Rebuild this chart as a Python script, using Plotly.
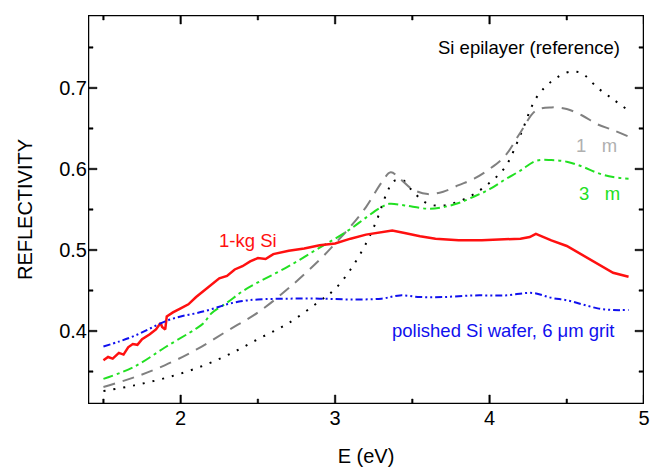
import numpy as np
import plotly.graph_objects as go

# Si epilayer (reference) - black dotted
epi_x = [1.5, 1.7, 1.9, 2.1, 2.3, 2.5, 2.7, 2.9, 3.0, 3.1, 3.2, 3.27, 3.33, 3.38, 3.44, 3.5, 3.6, 3.7, 3.8, 3.9, 4.0, 4.1, 4.2, 4.3, 4.4, 4.5, 4.55, 4.6, 4.7, 4.8, 4.9]
epi_y = [0.326, 0.333, 0.342, 0.354, 0.370, 0.390, 0.410, 0.437, 0.452, 0.476, 0.508, 0.537, 0.568, 0.585, 0.586, 0.573, 0.557, 0.555, 0.560, 0.569, 0.583, 0.602, 0.642, 0.687, 0.708, 0.719, 0.720, 0.718, 0.700, 0.686, 0.672]

# 1 um grit - gray dashed
g1_x = [1.5, 1.7, 1.9, 2.1, 2.3, 2.5, 2.7, 2.9, 3.0, 3.1, 3.2, 3.3, 3.36, 3.42, 3.5, 3.6, 3.7, 3.8, 3.9, 4.0, 4.1, 4.2, 4.3, 4.4, 4.5, 4.6, 4.7, 4.8, 4.9]
g1_y = [0.331, 0.343, 0.358, 0.377, 0.400, 0.423, 0.453, 0.488, 0.508, 0.529, 0.553, 0.583, 0.596, 0.588, 0.575, 0.569, 0.572, 0.580, 0.588, 0.600, 0.616, 0.645, 0.672, 0.676, 0.674, 0.666, 0.655, 0.648, 0.640]

# 3 um grit - green dash-dot
g3_x = [1.5, 1.7, 1.9, 2.1, 2.15, 2.2, 2.3, 2.4, 2.5, 2.7, 2.9, 3.0, 3.1, 3.2, 3.3, 3.35, 3.45, 3.6, 3.7, 3.8, 3.9, 4.0, 4.1, 4.2, 4.3, 4.4, 4.5, 4.6, 4.7, 4.8, 4.9]
g3_y = [0.341, 0.356, 0.380, 0.403, 0.410, 0.422, 0.435, 0.449, 0.460, 0.480, 0.503, 0.514, 0.526, 0.540, 0.553, 0.557, 0.555, 0.551, 0.553, 0.558, 0.566, 0.575, 0.587, 0.598, 0.610, 0.611, 0.609, 0.603, 0.595, 0.590, 0.588]

# 1-kg Si - red solid
kg_x = [1.5, 1.53, 1.56, 1.6, 1.63, 1.66, 1.69, 1.72, 1.75, 1.8, 1.84, 1.87, 1.88, 1.9, 1.91, 1.95, 2.0, 2.05, 2.1, 2.15, 2.2, 2.25, 2.3, 2.35, 2.4, 2.45, 2.5, 2.55, 2.6, 2.7, 2.8, 2.9, 3.0, 3.1, 3.2, 3.3, 3.37, 3.45, 3.55, 3.65, 3.8, 3.95, 4.1, 4.2, 4.26, 4.3, 4.35, 4.4, 4.5, 4.6, 4.7, 4.8, 4.9]
kg_y = [0.364, 0.368, 0.366, 0.373, 0.371, 0.380, 0.384, 0.383, 0.390, 0.396, 0.402, 0.410, 0.405, 0.402, 0.418, 0.423, 0.428, 0.433, 0.442, 0.450, 0.458, 0.465, 0.468, 0.476, 0.480, 0.486, 0.490, 0.489, 0.495, 0.499, 0.502, 0.506, 0.508, 0.514, 0.519, 0.522, 0.524, 0.521, 0.517, 0.514, 0.512, 0.512, 0.513, 0.514, 0.516, 0.520, 0.516, 0.512, 0.505, 0.494, 0.482, 0.472, 0.467]

# polished Si wafer, 6 um grit - blue dash-dot-dot
pw_x = [1.5, 1.6, 1.7, 1.8, 1.9, 2.0, 2.1, 2.2, 2.3, 2.4, 2.5, 2.7, 2.9, 3.1, 3.3, 3.42, 3.55, 3.7, 3.9, 4.1, 4.28, 4.4, 4.5, 4.6, 4.7, 4.8, 4.9]
pw_y = [0.381, 0.387, 0.394, 0.403, 0.412, 0.418, 0.422, 0.427, 0.433, 0.437, 0.439, 0.440, 0.440, 0.439, 0.440, 0.444, 0.442, 0.442, 0.444, 0.444, 0.447, 0.441, 0.438, 0.433, 0.428, 0.426, 0.426]

FONT = "Arial, Liberation Sans, sans-serif"
X_RANGE = [1.4, 5.0]
Y_RANGE = [0.31, 0.79]
WIDTH, HEIGHT = 651, 471
MARGIN = dict(l=88, r=7, t=15, b=67)

fig = go.Figure()
fig.add_trace(go.Scatter(x=epi_x, y=epi_y, mode="lines", hoverinfo="skip", line=dict(color="#000000", width=2, dash="2px,8px", shape="spline")))
fig.add_trace(go.Scatter(x=g1_x, y=g1_y, mode="lines", hoverinfo="skip", line=dict(color="#808080", width=2, dash="12px,8px", shape="spline")))
fig.add_trace(go.Scatter(x=g3_x, y=g3_y, mode="lines", hoverinfo="skip", line=dict(color="#22e022", width=2, dash="10px,4px,3px,4px", shape="spline")))
fig.add_trace(go.Scatter(x=kg_x, y=kg_y, mode="lines", hoverinfo="skip", line=dict(color="#ff1010", width=2.5)))
fig.add_trace(go.Scatter(x=pw_x, y=pw_y, mode="lines", hoverinfo="skip", line=dict(color="#1010ee", width=2, dash="7px,3px,2px,3px,2px,3px", shape="spline")))

# Plot frame and inside tick marks as thin filled bars in axis units
# (straight stroked lines are not painted by this renderer, fills are).
plot_w = WIDTH - MARGIN["l"] - MARGIN["r"]
plot_h = HEIGHT - MARGIN["t"] - MARGIN["b"]
px_x = (X_RANGE[1] - X_RANGE[0]) / plot_w
px_y = (Y_RANGE[1] - Y_RANGE[0]) / plot_h
X0, X1 = X_RANGE
Y0, Y1 = Y_RANGE

bx, by = [], []
def bar(xa, xb, ya, yb):
    bx.extend([xa, xb, xb, xa, xa, None])
    by.extend([ya, ya, yb, yb, ya, None])

fw = 1.0  # half frame width in px
bar(X0 - fw * px_x, X1 + fw * px_x, Y0 - fw * px_y, Y0 + fw * px_y)
bar(X0 - fw * px_x, X1 + fw * px_x, Y1 - fw * px_y, Y1 + fw * px_y)
bar(X0 - fw * px_x, X0 + fw * px_x, Y0 - fw * px_y, Y1 + fw * px_y)
bar(X1 - fw * px_x, X1 + fw * px_x, Y0 - fw * px_y, Y1 + fw * px_y)

tw = 0.75  # half tick width in px
for step, length in ((1.0, 9), (0.5, 5)):
    for v in np.arange(np.ceil(X0 / step) * step, X1 + 1e-9, step):
        if step == 0.5 and abs(v - round(v)) < 1e-9:
            continue
        bar(v - tw * px_x, v + tw * px_x, Y0, Y0 + length * px_y)
        bar(v - tw * px_x, v + tw * px_x, Y1 - length * px_y, Y1)
for step, length in ((0.1, 9), (0.05, 5)):
    for v in np.arange(np.ceil(Y0 / step - 1e-9) * step, Y1 + 1e-9, step):
        if step == 0.05 and abs(v * 10 - round(v * 10)) < 1e-6:
            continue
        bar(X0, X0 + length * px_x, v - tw * px_y, v + tw * px_y)
        bar(X1 - length * px_x, X1, v - tw * px_y, v + tw * px_y)

fig.add_trace(go.Scatter(x=bx, y=by, mode="lines", fill="toself", fillcolor="#000000",
                         hoverinfo="skip", cliponaxis=False, connectgaps=False,
                         line=dict(color="#000000", width=0.5)))

def afont(color):
    return dict(family=FONT, size=18.5, color=color)

fig.add_annotation(x=4.859, y=0.750, text="Si epilayer (reference)", showarrow=False, xanchor="right", yanchor="middle", font=afont("#000000"))
fig.add_annotation(x=4.549, y=0.629, text="1\u00a0\u00a0\u00a0m", showarrow=False, xanchor="left", yanchor="middle", font=afont("#b0b0b0"))
fig.add_annotation(x=4.568, y=0.570, text="3\u00a0\u00a0\u00a0m", showarrow=False, xanchor="left", yanchor="middle", font=afont("#22e022"))
fig.add_annotation(x=2.238, y=0.512, text="1-kg Si", showarrow=False, xanchor="left", yanchor="middle", font=afont("#ff1010"))
fig.add_annotation(x=4.82, y=0.401, text="polished Si wafer, 6 \u03bcm grit", showarrow=False, xanchor="right", yanchor="middle", font=afont("#1010ee"))

xaxis = dict(
    showgrid=False, zeroline=False, showline=False, ticks="",
    tickfont=dict(family=FONT, size=20, color="#000000"),
    range=X_RANGE, dtick=1, tick0=0, fixedrange=True,
    title=dict(text="E (eV)", font=dict(family=FONT, size=20, color="#000000"), standoff=20),
)
yaxis = dict(
    showgrid=False, zeroline=False, showline=False, ticks="",
    tickfont=dict(family=FONT, size=20, color="#000000"),
    range=Y_RANGE, dtick=0.1, tick0=0, tickformat=".1f", fixedrange=True,
    title=dict(text="REFLECTIVITY", font=dict(family=FONT, size=20, color="#000000"), standoff=21),
)

fig.update_layout(
    template="simple_white",
    xaxis=xaxis, yaxis=yaxis,
    width=WIDTH, height=HEIGHT, showlegend=False, hovermode=False,
    margin=dict(MARGIN, autoexpand=False),
    plot_bgcolor="white", paper_bgcolor="white",
)

post = """
document.body.style.margin = '0';
document.body.style.overflow = 'hidden';
document.documentElement.style.overflow = 'hidden';
"""
fig.write_html("out.html", post_script=post, config={"displayModeBar": False})
